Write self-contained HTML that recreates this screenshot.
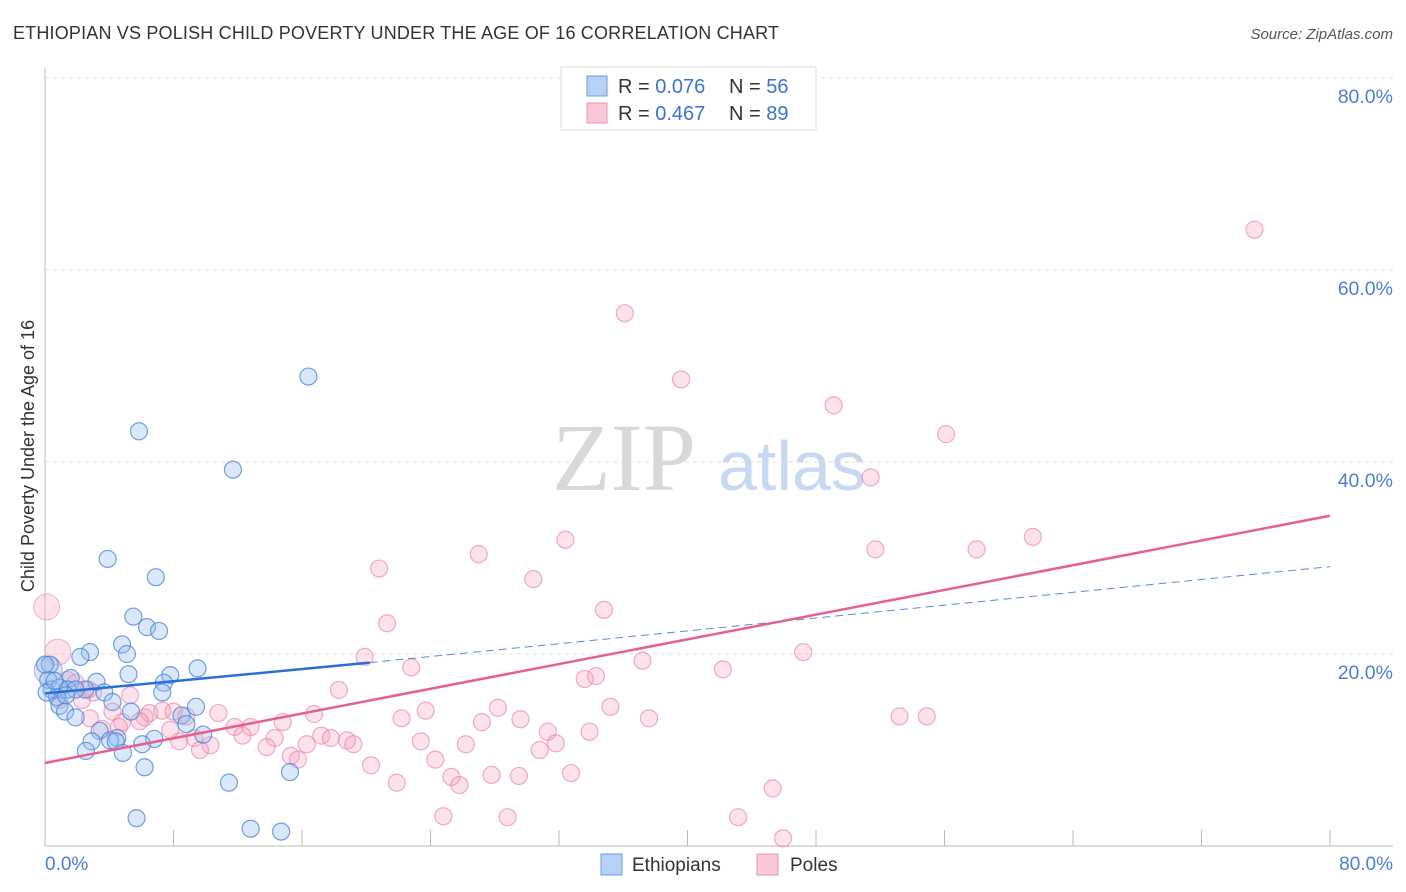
<!DOCTYPE html>
<html><head><meta charset="utf-8"><style>
body{margin:0;background:#fff;font-family:"Liberation Sans",sans-serif;}
</style></head><body>
<svg id="chart" width="1406" height="892" xmlns="http://www.w3.org/2000/svg" style="display:block">
<text x="13" y="39" font-size="18" fill="#333" textLength="766">ETHIOPIAN VS POLISH CHILD POVERTY UNDER THE AGE OF 16 CORRELATION CHART</text>
<text x="1393" y="39" font-size="15" fill="#555" font-style="italic" text-anchor="end">Source: ZipAtlas.com</text>
<text x="552" y="490" font-size="96" fill="#d8d8d8" font-family="Liberation Serif, serif">ZIP</text>
<text x="718" y="490" font-size="70" fill="#c8d8f0">atlas</text>
<text transform="translate(34,456) rotate(-90)" font-size="18" fill="#333" text-anchor="middle">Child Poverty Under the Age of 16</text>
<g id="grid"></g><g id="marks"></g><g id="lines"></g>
<g>
<rect x="561" y="67" width="255" height="63" fill="#fff" stroke="#ddd"/>
<rect x="587" y="76" width="20" height="20" fill="#b7d0f5" stroke="#6b9be0"/>
<rect x="587" y="103" width="20" height="20" fill="#f9c7d6" stroke="#e994b0"/>
<text x="618" y="93" font-size="20" fill="#333">R = <tspan fill="#3b73d1">0.076</tspan></text>
<text x="729" y="93" font-size="20" fill="#333">N = <tspan fill="#3b73d1">56</tspan></text>
<text x="618" y="120" font-size="20" fill="#333">R = <tspan fill="#3b73d1">0.467</tspan></text>
<text x="729" y="120" font-size="20" fill="#333">N = <tspan fill="#3b73d1">89</tspan></text>
</g>
<g>
<rect x="601" y="854" width="21" height="21" fill="#b7d0f5" stroke="#6b9be0"/>
<text x="632" y="871" font-size="19" fill="#333">Ethiopians</text>
<rect x="757" y="854" width="21" height="21" fill="#f9c7d6" stroke="#e994b0"/>
<text x="790" y="871" font-size="19" fill="#333">Poles</text>
</g>
</svg>
<script>
const yTicks=[20,40,60,80];
const yTickLabels=["20.0%","40.0%","60.0%","80.0%"];
const xTickLabels=["0.0%","80.0%"];
const blueX=[16.4,5.85,11.7,3.9,6.9,5.5,6.35,7.1,4.8,5.1,2.8,2.2,9.5,7.8,5.2,3.2,7.4,1.6,0.3,0.2,0.4,0.9,1.4,2.5,3.7,7.3,0.75,4.2,9.4,0.9,1.25,1.9,5.35,8.5,8.8,3.4,4.5,6.8,9.85,2.9,6.05,2.55,4.85,6.2,15.25,11.45,5.7,12.8,14.7,0,4.05,4.4,1.9,1.3,0.1,0.6];
const blueY=[48.9,43.2,39.2,29.9,28.0,23.9,22.8,22.4,21.0,20.0,20.2,19.7,18.5,17.8,17.9,17.1,17.0,17.5,18.9,17.3,16.3,16.5,16.3,16.3,16.0,16.0,15.5,15.0,14.5,14.6,14.0,13.4,14.0,13.6,12.7,12.0,11.25,11.15,11.6,10.9,10.6,9.9,9.7,8.2,7.7,6.6,2.9,1.8,1.5,18.9,11.0,10.9,16.3,15.7,16.0,17.2];
const pinkX=[75.3,36.1,39.6,49.1,56.1,51.4,32.4,61.5,51.7,58.0,27.0,20.8,30.4,34.8,21.3,47.2,19.9,37.2,42.2,22.8,34.3,33.6,18.3,5.3,28.2,35.2,23.7,16.75,53.2,54.9,37.6,22.2,29.6,27.2,10.8,14.8,7.3,6.2,8.8,4.8,2.8,12.8,11.8,31.3,33.9,17.2,17.8,18.8,14.3,12.3,9.3,8.35,10.3,3.55,4.6,31.8,13.8,16.3,19.2,23.4,26.2,30.8,15.3,15.75,24.3,20.3,27.8,29.5,32.75,25.3,25.8,21.9,45.3,24.8,28.8,43.15,45.95,1.4,1.9,2.3,4.2,6.5,7.8,9.65,0.9,2.7,3.0,5.9,8.0];
const pinkY=[64.2,55.5,48.6,45.9,42.9,38.4,31.9,32.2,30.9,30.9,30.4,28.9,27.8,24.6,23.2,20.2,19.7,19.3,18.4,18.6,17.7,17.4,16.25,15.7,14.4,14.5,14.1,13.75,13.5,13.5,13.3,13.3,13.2,12.9,13.85,12.9,14.1,13.4,13.5,12.9,13.3,12.4,12.4,11.9,11.9,11.5,11.25,11.0,11.25,11.5,11.25,10.9,10.5,12.2,12.4,10.7,10.3,10.6,10.6,10.9,10.6,10.0,9.4,9.0,9.0,8.4,7.4,7.3,7.6,7.2,6.35,6.6,6.0,3.1,3.0,3.0,0.8,17.3,17.0,15.2,14.0,13.85,12.1,10.0,15.2,16.3,16.0,13.0,14.0];
const bigX=[0.1,0.8,0.2];
const bigY=[24.9,20.2,18.3];
const blueTrend=[15.9,19.1,29.1];
const pinkTrend=[8.65,34.4];
const X=v=>45+v*1285/80, Y=v=>846-v*9.6;
const NS="http://www.w3.org/2000/svg";
function mk(t,a,p){const e=document.createElementNS(NS,t);for(const k in a)e.setAttribute(k,a[k]);p.appendChild(e);return e;}
const grid=document.getElementById('grid');
mk('line',{x1:45,y1:846,x2:1393,y2:846,stroke:'#bbb'},grid);
mk('line',{x1:45,y1:68,x2:45,y2:846,stroke:'#bbb'},grid);
for(let k=1;k<=10;k++){const l=mk('line',{x1:45+k*128.5,y1:830,x2:45+k*128.5,y2:846,stroke:'#bbb'},grid);

}
yTicks.forEach((v,i)=>{
const g=mk('line',{x1:45,y1:Y(v),x2:1393,y2:Y(v),stroke:'#ddd','stroke-dasharray':'4,4'},grid);


const t=mk('text',{x:1393,y:Y(v)+25,'font-size':19.5,fill:'#4a7fd6','text-anchor':'end'},grid);t.textContent=yTickLabels[i];

});
const t0=mk('text',{x:45,y:870,'font-size':19,fill:'#4a7fd6'},grid);t0.textContent=xTickLabels[0];


const t1=mk('text',{x:1393,y:870,'font-size':19,fill:'#4a7fd6','text-anchor':'end'},grid);t1.textContent=xTickLabels[1];


const marks=document.getElementById('marks');
pinkX.forEach((x,i)=>{const c=mk('circle',{cx:X(x),cy:Y(pinkY[i]),r:8.5,fill:'rgba(245,160,190,0.3)',stroke:'rgba(232,130,165,0.65)','stroke-width':1.2},marks);

});
bigX.forEach((x,i)=>{const c=mk('circle',{cx:X(x),cy:Y(bigY[i]),r:i==2?14:13,fill:i==2?'rgba(150,170,220,0.3)':'rgba(245,160,190,0.3)',stroke:i==2?'rgba(100,140,210,0.55)':'rgba(232,130,165,0.55)'},marks);

});
blueX.forEach((x,i)=>{const c=mk('circle',{cx:X(x),cy:Y(blueY[i]),r:8.5,fill:'rgba(150,190,240,0.35)',stroke:'rgba(70,130,215,0.75)','stroke-width':1.2},marks);

});
const lines=document.getElementById('lines');
const bs=mk('line',{x1:X(0),y1:Y(blueTrend[0]),x2:X(20.2),y2:Y(blueTrend[1]),stroke:'#2a6fd6','stroke-width':2.5},lines);


const bd=mk('line',{x1:X(20.2),y1:Y(blueTrend[1]),x2:X(80),y2:Y(blueTrend[2]),stroke:'#5a8ad6','stroke-width':1,'stroke-dasharray':'8,5'},lines);


const pl=mk('line',{x1:X(0),y1:Y(pinkTrend[0]),x2:X(80),y2:Y(pinkTrend[1]),stroke:'#e5608e','stroke-width':2.5},lines);


</script>
</body></html>
